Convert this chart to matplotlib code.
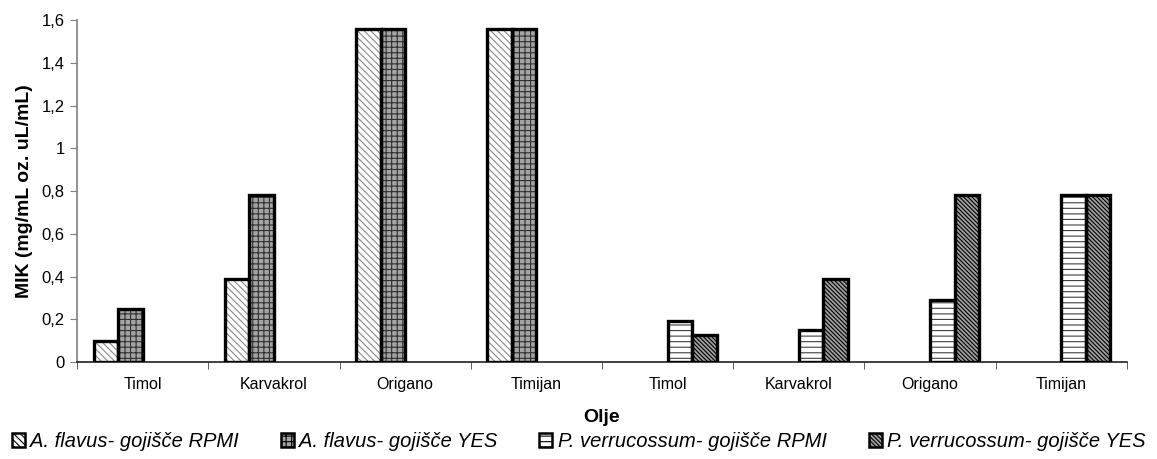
import numpy as np
import matplotlib.pyplot as plt

plt.rcParams['font.family'] = ['Liberation Sans', 'DejaVu Sans']
plt.rcParams['hatch.linewidth'] = 0.8

kategorije = ["Timol", "Karvakrol", "Origano", "Timijan",
              "Timol", "Karvakrol", "Origano", "Timijan"]
serije = ["A. flavus- gojišče RPMI", "A. flavus- gojišče YES",
          "P. verrucossum- gojišče RPMI", "P. verrucossum- gojišče YES"]

af_rpmi = [0.098, 0.39, 1.56, 1.56, 0, 0, 0, 0]
af_yes = [0.25, 0.78, 1.56, 1.56, 0, 0, 0, 0]
pv_rpmi = [0, 0, 0, 0, 0.19, 0.15, 0.29, 0.78]
pv_yes = [0, 0, 0, 0, 0.125, 0.39, 0.78, 0.78]
vrednosti = [af_rpmi, af_yes, pv_rpmi, pv_yes]

# fill, hatch colour, hatch pattern per series
polnila = ["white", "#a4a4a4", "white", "#a0a0a0"]
srafure = ["#8a8a8a", "#303030", "#404040", "black"]
vzorci = ["\\\\\\\\\\", "+++", "---", "\\\\\\\\\\\\\\\\"]

fig = plt.figure(figsize=(11.57, 4.59), dpi=100)
ax = fig.add_axes([0.0666, 0.2113, 0.9074, 0.7451])

x = np.arange(len(kategorije))
sirina = 1 / (4 + 1.35)
handles = []
for i, vals in enumerate(vrednosti):
    pos = x - 2 * sirina + (i + 0.5) * sirina
    v = np.array(vals, dtype=float)
    m = v > 0
    ax.bar(pos[m], v[m], sirina, color=polnila[i], edgecolor=srafure[i],
           hatch=vzorci[i], linewidth=0, zorder=2)
    ax.bar(pos[m], v[m], sirina, fill=False, edgecolor="black",
           linewidth=2.4, zorder=3)
    h = plt.Rectangle((0, 0), 1, 1, facecolor=polnila[i], edgecolor="black",
                      hatch=vzorci[i], linewidth=1.8)
    handles.append(h)

ax.set_xlim(-0.5, len(kategorije) - 0.5)
ax.set_ylim(0, 1.6)
yt = np.arange(0, 1.61, 0.2).round(1)
ax.set_yticks(yt)
ax.set_yticklabels([f"{t:g}".replace(".", ",") for t in yt], fontsize=12)
ax.set_xticks(x)
ax.set_xticklabels(kategorije, fontsize=11.5)
ax.set_xticks(np.arange(-0.5, len(kategorije)), minor=True)
ax.tick_params(axis="x", which="major", length=0, pad=11)
ax.tick_params(axis="x", which="minor", length=5, color="#404040")
ax.tick_params(axis="y", length=5, color="#808080", pad=4)

for s in ["top", "right"]:
    ax.spines[s].set_visible(False)
ax.spines["left"].set_color("#808080")
ax.spines["left"].set_linewidth(1.2)
ax.spines["bottom"].set_color("#202020")
ax.spines["bottom"].set_linewidth(1.2)

ax.set_ylabel("MIK (mg/mL oz. uL/mL)", fontsize=14, fontweight="bold", labelpad=6)
ax.set_xlabel("Olje", fontsize=14, fontweight="bold", labelpad=12)

fig.legend(handles, serije, loc="lower center", bbox_to_anchor=(0.5, -0.022),
           ncol=4, frameon=False, prop={"style": "italic", "size": 14.5},
           handlelength=0.65, handleheight=0.65, handletextpad=0.25,
           columnspacing=2.1)

fig.savefig("out.png", dpi=100)
